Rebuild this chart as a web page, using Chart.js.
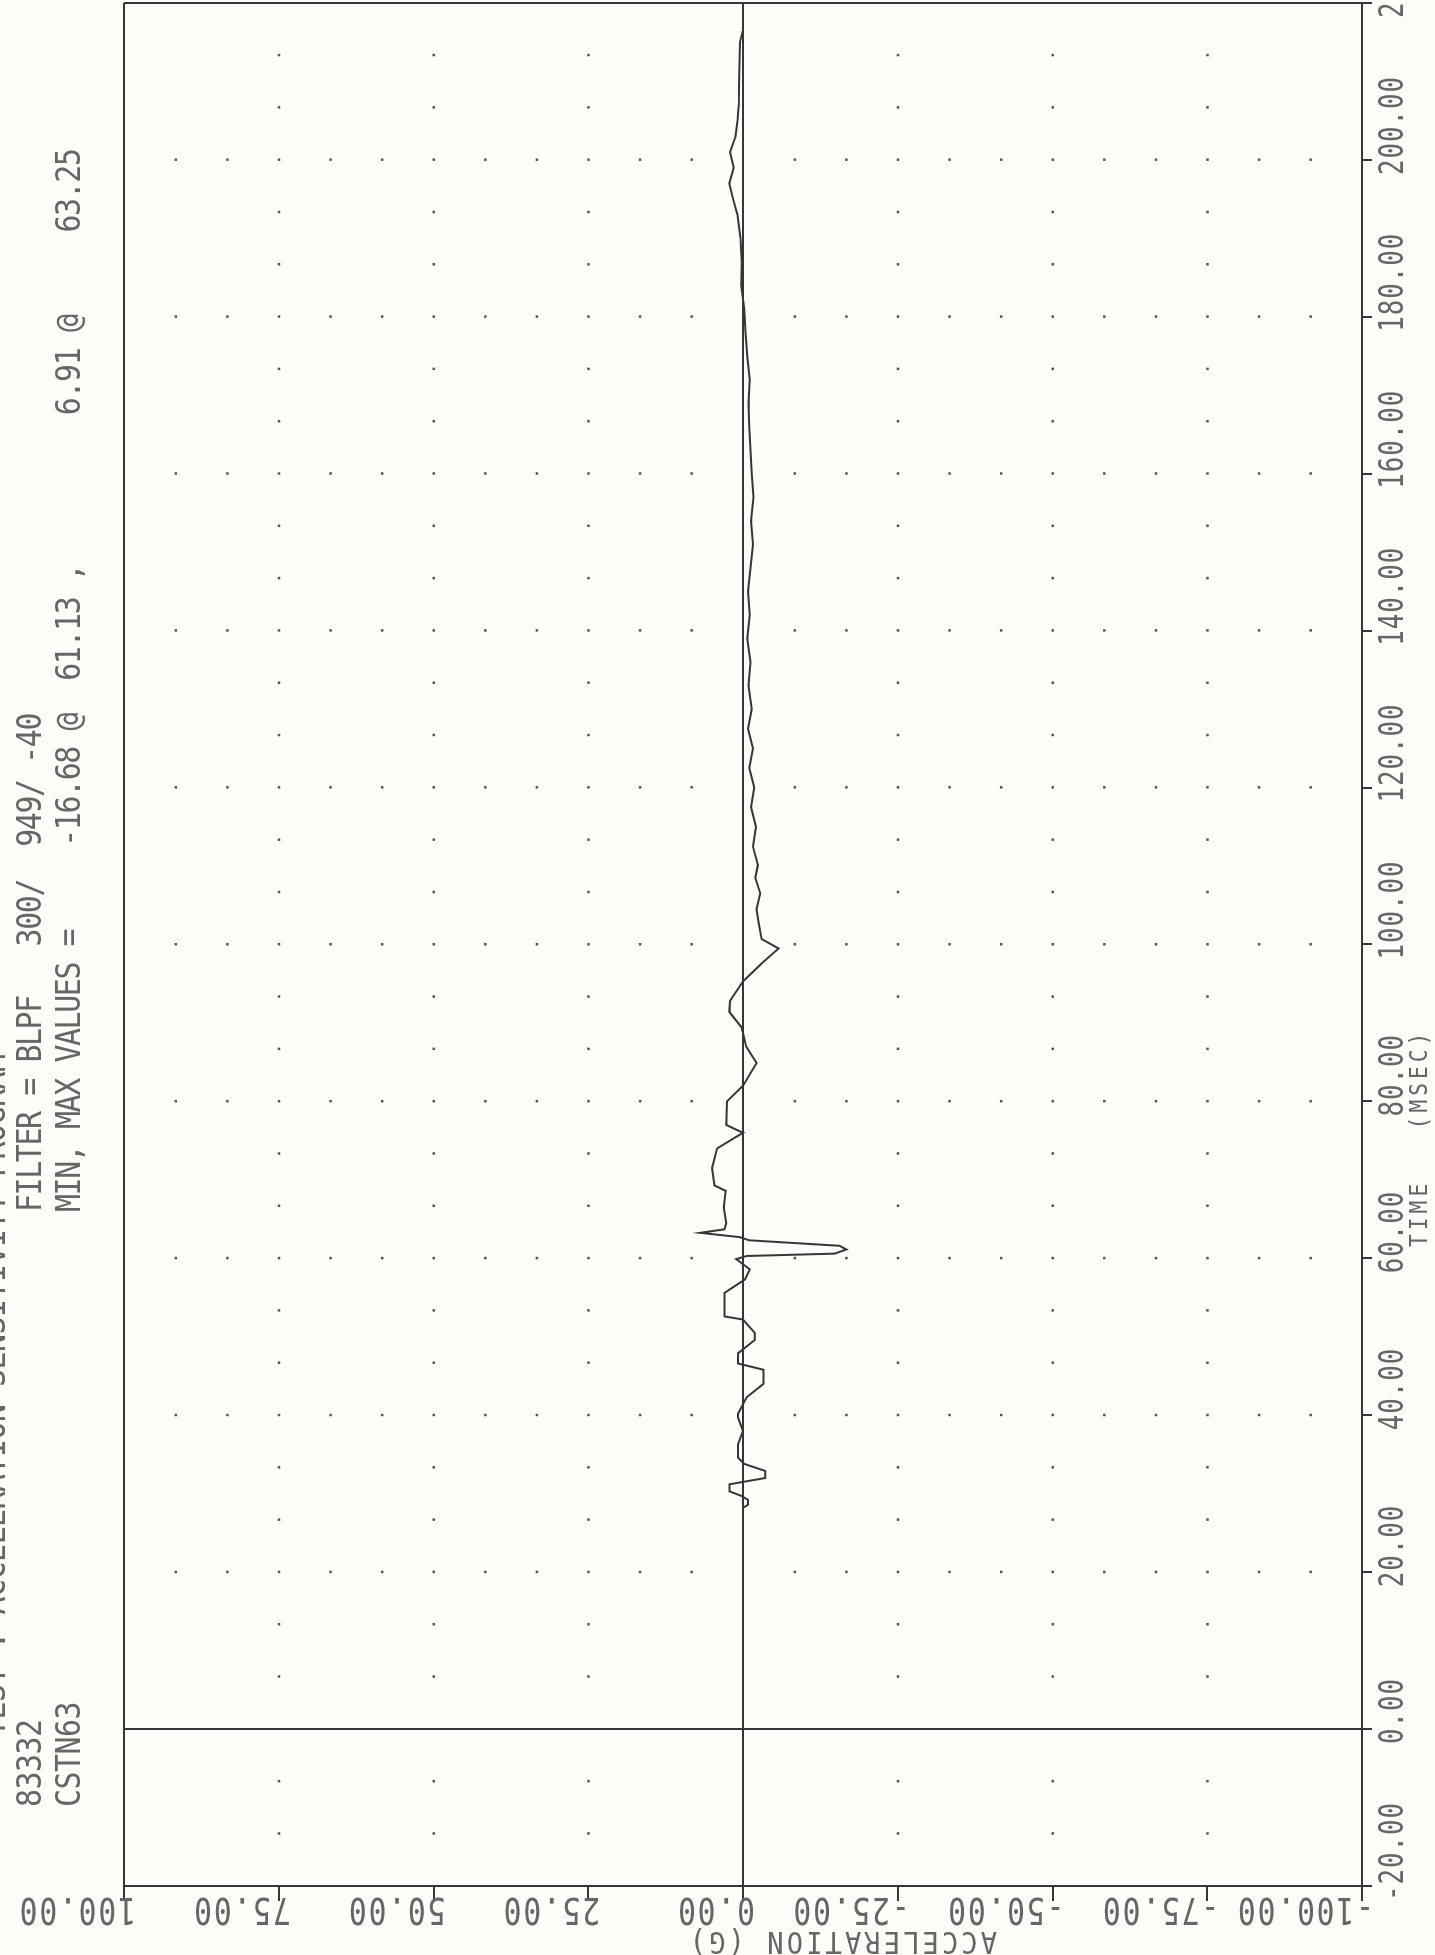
<!DOCTYPE html>
<html lang="en">

<head>
  <meta charset="UTF-8">
  <title>Acceleration - Time</title>
  <script src="https://cdn.jsdelivr.net/npm/chart.js"></script>
  <style>
    html, body { margin: 0; padding: 0; background: #fcfcf9; overflow: hidden; }
    /* the plot is drawn on its side and turned a quarter turn counter-clockwise */
    #turn {
      position: absolute; left: 0; top: 0;
      width: 1955px; height: 1435px;
      transform-origin: 0 0;
      transform: translate(0, 1955px) rotate(-90deg);
    }
  </style>
</head>

<body>
  <div id="turn"><canvas id="plot" width="1955" height="1435"></canvas></div>

  <script>
    const timeTicks = [-20, 0, 20, 40, 60, 80, 100, 120, 140, 160, 180, 200, 220];
    const timeLabels = ['-20.00', '0.00', '20.00', '40.00', '60.00', '80.00', '100.00',
      '120.00', '140.00', '160.00', '180.00', '200.00', '220.00'];
    const accelTicks = [100, 75, 50, 25, 0, -25, -50, -75, -100];
    const accelLabels = ['100.00', '75.00', '50.00', '25.00', '0.00', '-25.00', '-50.00', '-75.00', '-100.00'];

    const headerCut = 'TEST : ACCELERATION SENSITIVITY PROGRAM';
    const headerRun = ['83332', 'CSTN63'];
    const headerFilter = 'FILTER = BLPF   300/  949/ -40';
    const headerMinMax = 'MIN, MAX VALUES =     -16.68 @  61.13 ,         6.91 @     63.25';

    // trace: time (msec) / acceleration (G)
    const traceTime = [-20, 28.2, 28.6, 29.2, 29.7, 30.3, 31.2, 32.0, 32.9, 33.8, 34.6, 36.3, 38.0, 39.7, 40.2,
      42.3, 44.0, 45.8, 46.6, 47.9, 49.6, 50.5, 52.2, 52.6, 55.6, 57.3, 58.6, 59.9, 60.3, 60.6, 61.13, 61.6,
      62.3, 62.7, 63.25, 63.7, 64.5, 66.5, 68.6, 69.3, 71.5, 74.0, 75.3, 76.0, 77.0, 80.0, 82.0, 84.9, 87.0,
      89.4, 91.4, 92.8, 95.3, 97.5, 99.5, 100.7, 102.5, 104.5, 106.5, 108.5, 110.1, 112.5, 115, 117.5, 120,
      122.5, 125, 127.5, 130, 133, 136, 139, 142, 145, 148, 151, 154, 157, 160, 163, 166, 169, 172, 175, 178,
      181, 184, 187, 190, 193, 195, 197, 199, 201, 203, 205, 207, 211, 215, 216.5, 220];
    const traceAccel = [0, 0, -0.8, -0.8, 0.2, 2.2, 2.2, -3.6, -3.6, -0.2, 0.8, 0.8, 0, 0.8, 0.8,
      -0.6, -3.3, -3.3, 0.8, 0.8, -1.9, -1.9, 0, 3.0, 3.0, -0.3, -1.1, 1.1, -0.6, -14.8, -16.68, -15.6,
      -1.0, 0.5, 6.91, 3.0, 2.7, 3.1, 2.8, 4.6, 5.0, 4.2, 1.5, 0, 2.7, 2.6, 0, -2.2, -0.5,
      0.2, 2.2, 2.1, 0, -2.9, -5.75, -3.0, -2.6, -2.2, -2.8, -2.0, -2.4, -1.6, -2.1, -1.3, -1.8,
      -1.0, -1.6, -0.8, -1.4, -0.9, -1.2, -0.7, -1.1, -0.8, -1.2, -1.6, -1.3, -1.7, -1.4, -1.2, -1.0, -0.9, -1.1, -0.7, -0.4,
      -0.2, 0.3, 0.2, 0.4, 0.9, 1.6, 2.2, 1.5, 2.1, 1.2, 0.9, 0.7, 0.6, 0.5, 0, 0];

    const ink = '#363636';
    const textInk = '#666666';

    // monospace plotter lettering, sx squeezes the glyphs, adv is the step per character
    function plotText(ctx, s, x, y, angle, size, sx, adv) {
      ctx.save();
      ctx.translate(x, y);
      ctx.rotate(angle);
      ctx.scale(sx, 1);
      ctx.font = size + 'px "DejaVu Sans Mono"';
      ctx.letterSpacing = (adv / sx - 0.602 * size) + 'px';
      ctx.textAlign = 'left';
      ctx.textBaseline = 'alphabetic';
      ctx.fillText(s, 0, 0);
      ctx.restore();
    }

    const plotterMarks = {
      id: 'plotterMarks',
      beforeDatasetsDraw(chart) {
        const { ctx, scales: { x, y } } = chart;
        ctx.save();
        ctx.fillStyle = '#555';
        // dotted lines at every time tick, one dot per 25/3 G
        timeTicks.forEach(t => {
          if (t === -20 || t === 0 || t === 220) return;
          for (let k = 1; k < 24; k++) {
            if (k === 12) continue;
            ctx.fillRect(x.getPixelForValue(t) - 1, y.getPixelForValue(100 - k * 25 / 3) - 1, 2.5, 2.5);
          }
        });
        // dotted lines at every acceleration tick, one dot per 20/3 msec
        accelTicks.forEach(a => {
          if (a === 0 || Math.abs(a) === 100) return;
          for (let j = 1; j < 36; j++) {
            if (j % 3 === 0) continue;
            ctx.fillRect(x.getPixelForValue(-20 + j * 20 / 3) - 1, y.getPixelForValue(a) - 1, 2.5, 2.5);
          }
        });
        ctx.restore();
      },
      afterDraw(chart) {
        const { ctx, scales: { x, y } } = chart;
        ctx.save();
        ctx.fillStyle = textInk;

        timeTicks.forEach((t, i) => {
          plotText(ctx, timeLabels[i], x.getPixelForValue(t) - 15, 1403, 0, 34, 0.76, 16.5);
        });
        accelTicks.forEach((a, i) => {
          plotText(ctx, accelLabels[i], 57, y.getPixelForValue(a) + 12, -Math.PI / 2, 37, 0.81, 19.7);
        });

        plotText(ctx, 'TIME   (MSEC)', 708, 1427, 0, 25, 0.85, 16.8);
        plotText(ctx, 'ACCELERATION (G)', 23, 997, -Math.PI / 2, 30, 0.9, 19.4);

        plotText(ctx, headerCut, 218, 5, 0, 34, 0.88, 17.5);
        plotText(ctx, headerRun[0], 148, 41, 0, 34, 0.88, 17.5);
        plotText(ctx, headerRun[1], 148, 80, 0, 34, 0.88, 17.5);
        plotText(ctx, headerFilter, 743, 41, 0, 34, 0.88, 16.6);
        plotText(ctx, headerMinMax, 743, 80, 0, 34, 0.88, 16.6);
        ctx.restore();
      }
    };

    const ctx = document.getElementById('plot').getContext('2d');

    new Chart(ctx, {
      type: 'scatter',
      data: {
        datasets: [{
          data: traceTime.map((t, i) => ({ x: t, y: traceAccel[i] })),
          showLine: true,
          borderColor: ink,
          borderWidth: 2,
          pointRadius: 0,
          tension: 0
        }]
      },
      options: {
        responsive: false,
        animation: false,
        devicePixelRatio: 1,
        layout: { padding: { top: 124, right: 3, left: 0, bottom: 0 } },
        plugins: { legend: { display: false }, tooltip: { enabled: false } },
        scales: {
          x: {
            type: 'linear',
            min: -20,
            max: 220,
            ticks: { stepSize: 20, display: false },
            grid: {
              color: c => (c.tick && (c.tick.value === 0 || c.tick.value === 220)) ? ink : 'rgba(0,0,0,0)',
              lineWidth: 2,
              tickColor: ink,
              tickLength: 10,
              tickWidth: 2
            },
            border: { color: ink, width: 2 },
            afterFit: s => { s.height = 73; }
          },
          y: {
            type: 'linear',
            min: -100,
            max: 100,
            ticks: { stepSize: 25, display: false },
            grid: {
              color: c => (c.tick && (c.tick.value === 0 || c.tick.value === 100)) ? ink : 'rgba(0,0,0,0)',
              lineWidth: 2,
              tickColor: ink,
              tickLength: 15,
              tickWidth: 2
            },
            border: { color: ink, width: 2 },
            afterFit: s => { s.width = 69; }
          }
        }
      },
      plugins: [plotterMarks]
    });
  </script>
</body>

</html>
